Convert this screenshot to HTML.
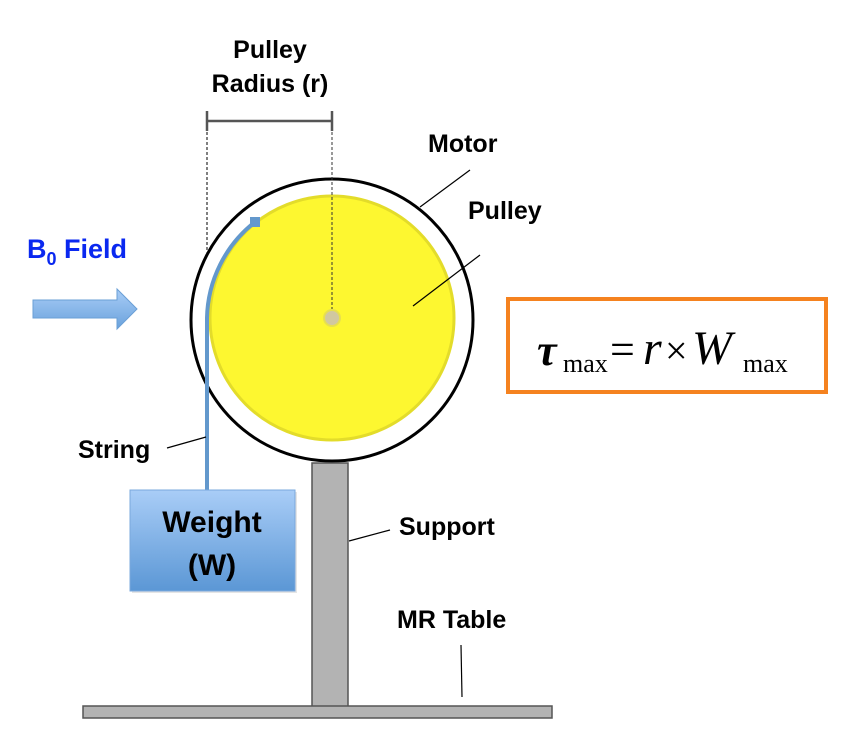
<!DOCTYPE html>
<html><head><meta charset="utf-8"><style>
html,body{margin:0;padding:0;background:#fff;}
svg{display:block;}
.l{font-family:"Liberation Sans",sans-serif;font-weight:bold;font-size:25px;fill:#000;}
</style></head><body>
<svg width="859" height="753" viewBox="0 0 859 753" xmlns="http://www.w3.org/2000/svg">
<defs>
<linearGradient id="wg" x1="0" y1="0" x2="0" y2="1"><stop offset="0" stop-color="#a9cdf7"/><stop offset="1" stop-color="#5b97d5"/></linearGradient>
<linearGradient id="ag" x1="0" y1="0" x2="0" y2="1"><stop offset="0" stop-color="#a9cdf7"/><stop offset="1" stop-color="#6aa2dc"/></linearGradient>
</defs>
<line x1="207" y1="121" x2="332" y2="121" stroke="#555" stroke-width="2.5"/>
<line x1="207" y1="111" x2="207" y2="131" stroke="#555" stroke-width="2.5"/>
<line x1="332" y1="111" x2="332" y2="131" stroke="#555" stroke-width="2.5"/>
<line x1="207" y1="132" x2="207" y2="318" stroke="#000" stroke-width="1" stroke-dasharray="3,2"/>
<line x1="332" y1="132" x2="332" y2="318" stroke="#000" stroke-width="1" stroke-dasharray="3,2"/>
<text class="l" x="270" y="58" text-anchor="middle">Pulley</text>
<text class="l" x="270" y="92" text-anchor="middle">Radius (r)</text>
<circle cx="332" cy="320" r="141" fill="#fff" stroke="#000" stroke-width="3"/>
<circle cx="332" cy="318" r="122" fill="#fdf730" stroke="#e3dc2a" stroke-width="3"/>
<line x1="332" y1="132" x2="332" y2="318" stroke="#333" stroke-width="1" stroke-dasharray="3,2"/>
<circle cx="332" cy="318" r="8" fill="#d1c8a0" stroke="#e6df50" stroke-width="2"/>
<path d="M207 490 L207 318 A125 125 0 0 1 255 222" fill="none" stroke="#6398cc" stroke-width="4"/>
<rect x="250" y="217" width="10" height="10" fill="#6398cc"/>
<line x1="420" y1="207" x2="470" y2="170" stroke="#000" stroke-width="1.2"/>
<line x1="413" y1="306" x2="480" y2="255" stroke="#000" stroke-width="1.2"/>
<line x1="167" y1="448" x2="206" y2="437" stroke="#000" stroke-width="1.2"/>
<line x1="349" y1="541" x2="390" y2="530" stroke="#000" stroke-width="1.2"/>
<line x1="461" y1="645" x2="462" y2="697" stroke="#000" stroke-width="1.2"/>
<text class="l" x="428" y="152">Motor</text>
<text class="l" x="468" y="219">Pulley</text>
<text class="l" x="78" y="458">String</text>
<text class="l" x="399" y="535">Support</text>
<text class="l" x="397" y="628">MR Table</text>
<text x="27" y="258" font-family="Liberation Sans,sans-serif" font-weight="bold" font-size="27" fill="#0a28f0">B<tspan font-size="18" dy="7">0</tspan><tspan dy="-7"> Field</tspan></text>
<path d="M33 300 L117 300 L117 289 L137 309 L117 329 L117 318 L33 318 Z" fill="url(#ag)" stroke="#6a9fd6" stroke-width="1"/>
<rect x="132" y="492" width="165" height="101" fill="#ccc" opacity="0.5"/>
<rect x="130" y="490" width="165" height="101" fill="url(#wg)" stroke="#7aa8dc" stroke-width="1"/>
<text class="l" x="212" y="532" text-anchor="middle" style="font-size:30px">Weight</text>
<text class="l" x="212" y="575" text-anchor="middle" style="font-size:30px">(W)</text>
<rect x="312" y="463" width="36" height="244" fill="#b3b3b3" stroke="#555" stroke-width="1.5"/>
<rect x="83" y="706" width="469" height="12" fill="#b3b3b3" stroke="#555" stroke-width="1.5"/>
<rect x="508" y="299" width="318" height="93" fill="#fff" stroke="#f5821f" stroke-width="4"/>
<text x="537" y="365" font-family="Liberation Serif,serif" font-style="italic" font-weight="bold" font-size="44">τ</text>
<text x="563" y="372" font-family="Liberation Serif,serif" font-size="26">max</text>
<text x="610" y="364" font-family="Liberation Serif,serif" font-size="44">=</text>
<text x="643" y="364" font-family="Liberation Serif,serif" font-style="italic" font-size="48">r</text>
<text x="665" y="364" font-family="Liberation Serif,serif" font-size="40">×</text>
<text x="692" y="364" font-family="Liberation Serif,serif" font-style="italic" font-size="48">W</text>
<text x="743" y="372" font-family="Liberation Serif,serif" font-size="26">max</text>
</svg>
</body></html>
